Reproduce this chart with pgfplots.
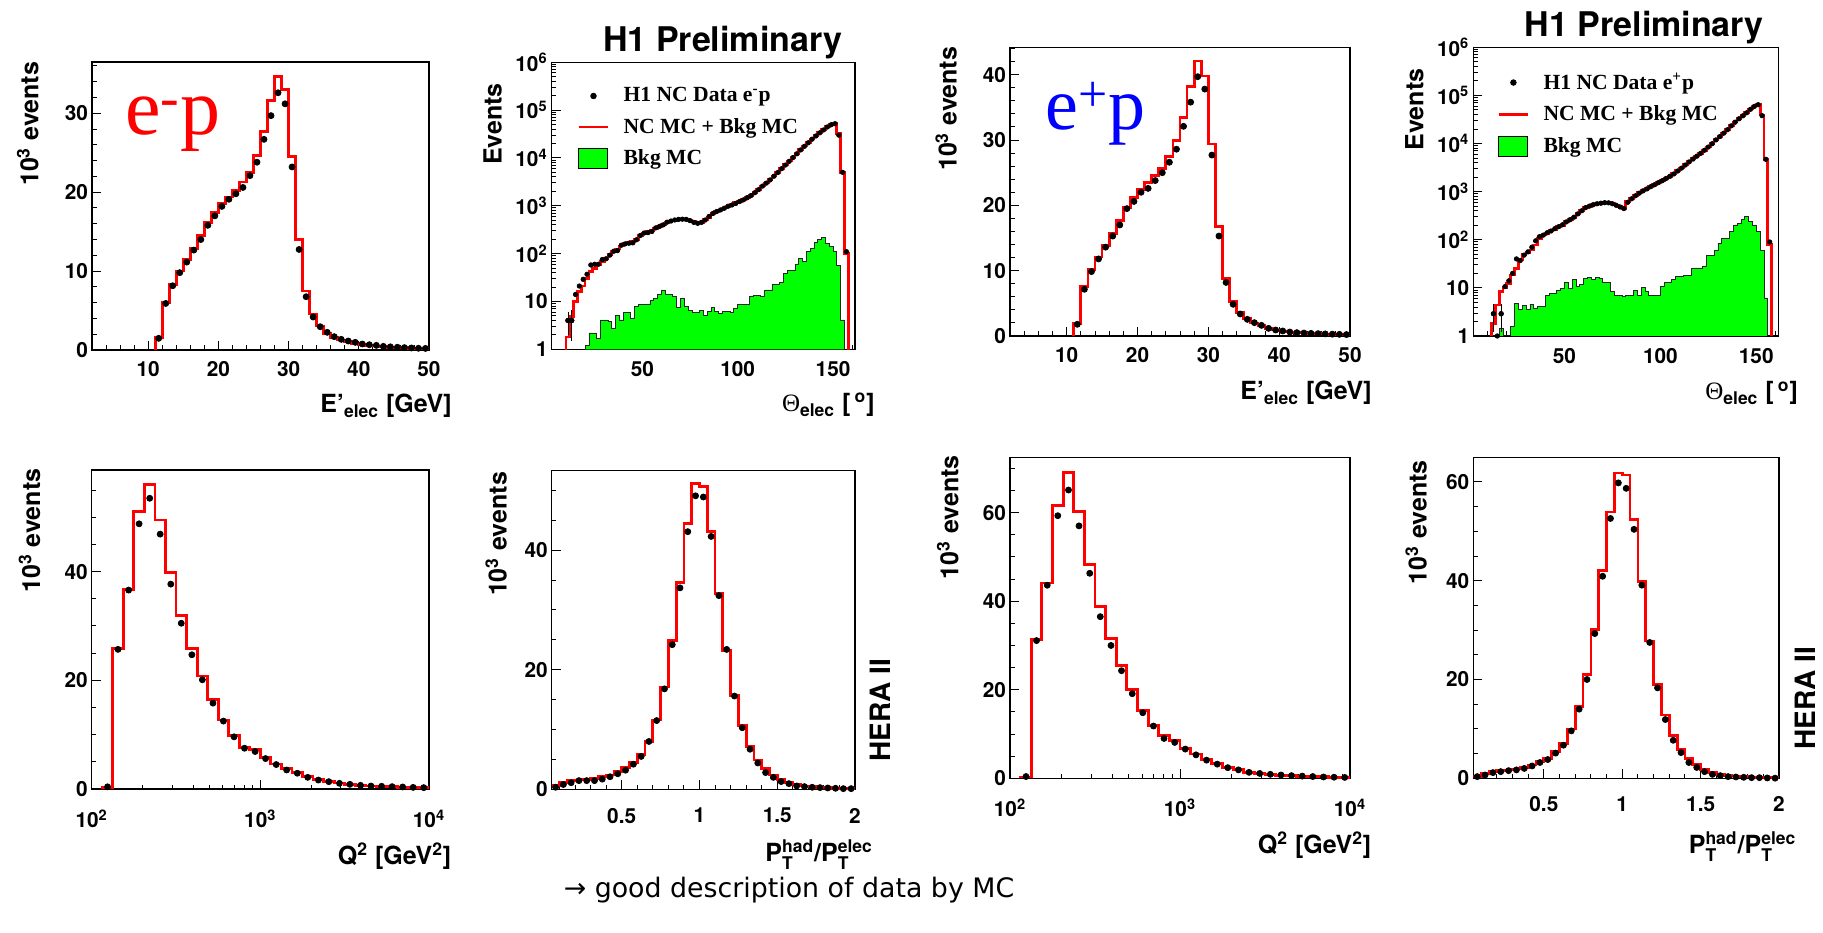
\documentclass[border=0pt]{standalone}
\usepackage{fontspec}
\setmainfont{TeX Gyre Heros}
\newfontfamily\tms{Liberation Serif}
\newfontfamily\dejavu{DejaVu Sans}
\usepackage{amsmath}
\usepackage{pgfplots}
\pgfplotsset{compat=1.18}
\definecolor{rootgreen}{RGB}{0,255,0}
\definecolor{rootred}{RGB}{255,0,0}
\definecolor{rootblue}{RGB}{0,0,255}
\newcommand\tlf{\fontsize{10.4}{12}\selectfont\bfseries}
\newcommand\ttf{\fontsize{12.5}{15}\selectfont\bfseries}
\newcommand\lgf{\tms\bfseries\fontsize{10.8}{13}\selectfont}
\pgfplotsset{
 rootax/.style={scale only axis, anchor=south west, clip=true,
   axis line style={line width=0.7pt}, tick align=inside, tick pos=left,
   major tick length=4.5pt, minor tick length=2.25pt,
   every tick/.style={black,line width=0.5pt},
   tick label style={font=\tlf}, /pgf/number format/assume math mode=true,
   scaled ticks=false, xticklabel style={yshift=-2.4pt}, yticklabel style={xshift=1.5pt}},
 mc/.style={const plot mark left, rootred, line width=1.4pt, mark=none},
 dat/.style={only marks, mark=*, mark size=1.5pt, black},
 bkg/.style={const plot mark left, fill=rootgreen, draw=black!85, line width=0.4pt, mark=none},
 leg/.style={legend style={at={(rel axis cs:#1)}, anchor=north west, draw=none, fill=none,
   inner sep=0pt, row sep=4.7pt, column sep=2.3pt, font=\lgf, nodes={inner sep=1pt}},
   legend cell align=left, reverse legend},
 limg/.style={legend image code/.code={\path[draw=none,fill=none] (0,0)--(19pt,0);\fill[black] (7.25pt,0) circle (1.4pt);}},
 lmc/.style={legend image code/.code={\path[draw=none,fill=none] (0,0)--(19pt,0);\draw[rootred,line width=1.4pt] (0,0)--(14.5pt,0);}},
 lbk/.style={legend image code/.code={\path[draw=none,fill=none] (0,0)--(19pt,0);\draw[fill=rootgreen,draw=black,line width=0.5pt] (0,-5pt) rectangle (14.5pt,5pt);}},
}
\begin{document}
\begin{tikzpicture}
\useasboundingbox (0,0) rectangle (911.5pt,466pt);

%% P1 e-p energy
\begin{axis}[rootax, at={(46pt,291pt)}, width=168.5pt, height=144pt,
  xmin=2, xmax=50, ymin=0, ymax=36.5,
  xtick={10,20,30,40,50}, minor xtick={4,6,8,12,14,16,18,22,24,26,28,32,34,36,38,42,44,46,48},
  ytick={0,10,20,30}, minor ytick={2,4,6,8,12,14,16,18,22,24,26,28,32,34,36}]
\addplot[mc] coordinates {(11,0) (11,1.56) (12,6.0) (13,8.35) (14,10.0) (15,11.5) (16,12.9) (17,14.55) (18,16.2) (19,17.4) (20,18.6) (21,19.4) (22,20.2) (23,21.3) (24,22.5) (25,24.7) (26,27.7) (27,31.6) (28,34.7) (29,33.0) (30,24.5) (31,14.0) (32,7.47) (33,4.56) (34,3.04) (35,2.1) (36,1.6) (37,1.27) (38,1.05) (39,0.85) (40,0.72) (41,0.6) (42,0.5) (43,0.42) (44,0.36) (45,0.31) (46,0.27) (47,0.23) (48,0.2) (49,0.17) (50,0.17)};
\addplot[dat] coordinates {(11.5,1.48) (12.5,5.9) (13.5,8.14) (14.5,9.8) (15.5,11.14) (16.5,12.66) (17.5,14.0) (18.5,15.8) (19.5,17.0) (20.5,18.2) (21.5,19.1) (22.5,19.8) (23.5,20.6) (24.5,22.1) (25.5,23.8) (26.5,26.7) (27.5,29.7) (28.5,32.6) (29.5,31.2) (30.5,23.2) (31.5,12.74) (32.5,6.75) (33.5,4.18) (34.5,2.95) (35.5,2.24) (36.5,1.69) (37.5,1.35) (38.5,1.14) (39.5,0.97) (40.5,0.76) (41.5,0.67) (42.5,0.59) (43.5,0.46) (44.5,0.4) (45.5,0.35) (46.5,0.3) (47.5,0.26) (48.5,0.22) (49.5,0.2)};
\end{axis}

%% P2 e-p theta
\begin{axis}[rootax, at={(275.85pt,291.35pt)}, width=151.65pt, height=143.5pt,
  ymode=log, xmin=2.5, xmax=161.5, ymin=1, ymax=1000000,
  xticklabel style={yshift=-0.3pt},
  xtick={50,100,150}, minor xtick={10,20,30,40,60,70,80,90,110,120,130,140,160},
  ytick={1,10,100,1000,10000,100000,1000000},
  yticklabels={1,10,10$^{\text{2}}$,10$^{\text{3}}$,10$^{\text{4}}$,10$^{\text{5}}$,10$^{\text{6}}$},
  leg={0.084,0.921}]
\addplot[bkg, lbk] coordinates {(20,1) (20,1.2) (22,2.2) (24,2.2) (26,1.7) (28,4.1) (30,4.1) (32,3.8) (34,2.75) (36,5.2) (38,4.1) (40,5.8) (42,5.8) (44,4.4) (46,7.8) (48,8.6) (50,8.6) (52,8.6) (54,10.5) (56,11.5) (58,14.3) (60,17.4) (62,14) (64,14) (66,12.6) (68,7.4) (70,11.5) (72,8) (74,6.6) (76,5.8) (78,5.8) (80,6.6) (82,5.2) (84,6.1) (86,7.4) (88,6.3) (90,5.65) (92,6.3) (94,6.3) (96,5.8) (98,7.2) (100,8.6) (102,8.6) (104,8.6) (106,12.6) (108,13.6) (110,13.6) (112,13) (114,17.4) (116,17.4) (118,23) (120,23) (122,25.5) (124,38) (126,44) (128,44) (130,60) (132,80) (134,70) (136,110) (138,130) (140,170) (142,200) (144,220) (146,165) (148,140) (150,110) (152,56) (154,4.1) (156,1)};
\addlegendentry{Bkg MC}
\addplot[mc, lmc] coordinates {(10,0.5) (10,1.8) (12,4.8) (14,10) (16,16) (18,21) (20,30) (22,42) (24,49) (26,58) (28,68) (30,80) (32,95) (34,110) (36,125) (38,145) (40,160) (42,170) (44,180) (46,200) (48,235) (50,265) (52,285) (54,300) (56,340) (58,375) (60,410) (62,450) (64,480) (66,500) (68,520) (70,530) (72,525) (74,500) (76,465) (78,440) (80,455) (82,510) (84,580) (86,680) (88,750) (90,820) (92,900) (94,980) (96,1050) (98,1150) (100,1250) (102,1350) (104,1500) (106,1650) (108,1900) (110,2200) (112,2600) (114,3000) (116,3500) (118,4200) (120,5000) (122,6000) (124,7200) (126,8600) (128,10300) (130,12300) (132,14800) (134,17700) (136,21000) (138,25000) (140,29000) (142,34000) (144,39000) (146,45000) (148,50000) (150,53000) (152,32000) (154,5000) (156,100) (158,0.5)};
\addlegendentry{NC MC + Bkg MC}
\addplot[dat, mark size=1.1pt, limg] coordinates {(11,4) (13,4) (15,14) (17,21) (19,29) (21,37) (23,58) (25,60) (27,60) (29,75) (31,78) (33,93) (35,112) (37,116) (39,150) (41,160) (43,165) (45,168) (47,195) (49,240) (51,270) (53,275) (55,290) (57,345) (59,370) (61,400) (63,455) (65,480) (67,505) (69,520) (71,525) (73,520) (75,490) (77,450) (79,430) (81,450) (83,505) (85,600) (87,690) (89,760) (91,820) (93,890) (95,980) (97,1040) (99,1120) (101,1230) (103,1330) (105,1480) (107,1640) (109,1880) (111,2180) (113,2580) (115,2980) (117,3480) (119,4150) (121,4950) (123,5950) (125,7100) (127,8500) (129,10200) (131,12200) (133,14700) (135,17500) (137,20800) (139,24700) (141,28800) (143,33500) (145,38500) (147,44500) (149,49500) (151,52000) (153,30000) (155,5000) (157,110)};
\addlegendentry{H1 NC Data e\textsuperscript{-}p}
\addplot[dat, mark size=1.1pt, forget plot, error bars/.cd, y dir=both, y explicit, error mark=none] coordinates {(11,4) +- (0,2) (13,4) +- (0,2.5)};
\end{axis}

%% P3 e+p energy
\begin{axis}[rootax, at={(505pt,298pt)}, width=170pt, height=144.35pt,
  xmin=2, xmax=50, ymin=0, ymax=44.2,
  xtick={10,20,30,40,50}, minor xtick={4,6,8,12,14,16,18,22,24,26,28,32,34,36,38,42,44,46,48},
  ytick={0,10,20,30,40}, minor ytick={2,4,6,8,12,14,16,18,22,24,26,28,32,34,36,38,42,44}]
\addplot[mc] coordinates {(11,0) (11,1.94) (12,7.56) (13,10.2) (14,12.1) (15,13.9) (16,15.7) (17,17.7) (18,19.7) (19,21.25) (20,22.4) (21,23.5) (22,24.6) (23,25.7) (24,27.5) (25,29.9) (26,33.5) (27,38.2) (28,42.1) (29,39.8) (30,29.4) (31,16.8) (32,8.8) (33,5.3) (34,3.6) (35,2.7) (36,2.0) (37,1.6) (38,1.2) (39,0.92) (40,0.77) (41,0.61) (42,0.51) (43,0.46) (44,0.4) (45,0.35) (46,0.3) (47,0.28) (48,0.25) (49,0.22) (50,0.22)};
\addplot[dat] coordinates {(11.5,1.79) (12.5,7.15) (13.5,9.86) (14.5,11.8) (15.5,13.6) (16.5,15.3) (17.5,17.0) (18.5,19.5) (19.5,20.6) (20.5,22.0) (21.5,22.6) (22.5,23.8) (23.5,25.0) (24.5,26.6) (25.5,28.6) (26.5,32.1) (27.5,35.8) (28.5,39.7) (29.5,37.8) (30.5,27.7) (31.5,15.3) (32.5,8.2) (33.5,4.85) (34.5,3.37) (35.5,2.55) (36.5,2.04) (37.5,1.63) (38.5,1.17) (39.5,0.92) (40.5,0.77) (41.5,0.61) (42.5,0.51) (43.5,0.46) (44.5,0.4) (45.5,0.36) (46.5,0.32) (47.5,0.28) (48.5,0.25) (49.5,0.22)};
\end{axis}

%% P4 e+p theta
\begin{axis}[rootax, at={(736.65pt,298pt)}, width=152.5pt, height=144.35pt,
  ymode=log, xmin=2.5, xmax=161.5, ymin=1, ymax=1000000,
  xticklabel style={yshift=-0.3pt},
  xtick={50,100,150}, minor xtick={10,20,30,40,60,70,80,90,110,120,130,140,160},
  ytick={1,10,100,1000,10000,100000,1000000},
  yticklabels={1,10,10$^{\text{2}}$,10$^{\text{3}}$,10$^{\text{4}}$,10$^{\text{5}}$,10$^{\text{6}}$},
  leg={0.078,0.92}]
\addplot[bkg, lbk] coordinates {(16,1) (16,1.45) (18,1) (20,1) (22,1.6) (24,4.8) (26,3.5) (28,4.4) (30,3.5) (32,4.6) (34,3.8) (36,4.1) (38,4.1) (40,7.1) (42,7.6) (44,7.6) (46,8.9) (48,9.6) (50,12.8) (52,9.6) (54,15) (56,10.8) (58,12) (60,15.8) (62,16.3) (64,14.7) (66,16.8) (68,16) (70,12.8) (72,12.8) (74,8.4) (76,6.9) (78,6.9) (80,6.7) (82,7.1) (84,7.1) (86,8.9) (88,6.9) (90,10) (92,8.4) (94,7.1) (96,7.1) (98,7.1) (100,10.8) (102,13.2) (104,13.2) (106,15) (108,17.3) (110,17.3) (112,18.3) (114,18.3) (116,25) (118,26) (120,26) (122,28.5) (124,48) (126,48) (128,61) (130,85) (132,107) (134,107) (136,147) (138,203) (140,220) (142,260) (144,300) (146,240) (148,203) (150,147) (152,61) (154,6.1) (156,1)};
\addlegendentry{Bkg MC}
\addplot[mc, lmc] coordinates {(12,0.5) (12,1.8) (14,4.4) (16,8.3) (18,10) (20,12.5) (22,18.5) (24,25.5) (26,38) (28,50) (30,55) (32,61) (34,78) (36,107) (38,125) (40,135) (42,155) (44,165) (46,190) (48,200) (50,240) (52,260) (54,290) (56,350) (58,400) (60,470) (62,500) (64,540) (66,565) (68,580) (70,590) (72,600) (74,580) (76,530) (78,490) (80,450) (82,620) (84,720) (86,830) (88,950) (90,1050) (92,1150) (94,1280) (96,1400) (98,1550) (100,1700) (102,1900) (104,2100) (106,2350) (108,2700) (110,3100) (112,3600) (114,4200) (116,4800) (118,5500) (120,6300) (122,7300) (124,8500) (126,10000) (128,12000) (130,14000) (132,16500) (134,19500) (136,23500) (138,28000) (140,33000) (142,38000) (144,44000) (146,52000) (148,60000) (150,66000) (152,39000) (154,4700) (156,80) (158,0.5)};
\addlegendentry{NC MC + Bkg MC}
\addplot[dat, mark size=1.1pt, limg] coordinates {(13,2.9) (15,1) (17,2.9) (19,10.6) (21,14) (23,20) (25,40) (27,37) (29,48) (31,56) (33,70) (35,95) (37,116) (39,125) (41,140) (43,152) (45,170) (47,187) (49,205) (51,235) (53,262) (55,295) (57,345) (59,400) (61,465) (63,500) (65,535) (67,560) (69,575) (71,590) (73,585) (75,560) (77,520) (79,480) (81,445) (83,600) (85,710) (87,820) (89,930) (91,1040) (93,1140) (95,1270) (97,1390) (99,1540) (101,1690) (103,1880) (105,2080) (107,2330) (109,2680) (111,3080) (113,3570) (115,4150) (117,4750) (119,5450) (121,6250) (123,7250) (125,8450) (127,9900) (129,11900) (131,13900) (133,16400) (135,19400) (137,23300) (139,27800) (141,32700) (143,37700) (145,43500) (147,51500) (149,59000) (151,64000) (153,38000) (155,4700) (157,90)};
\addlegendentry{H1 NC Data e\textsuperscript{+}p}
\addplot[dat, mark size=1.1pt, forget plot, error bars/.cd, y dir=both, y explicit, error mark=none] coordinates {(13,2.9) +- (0,1.7) (17,2.9) +- (0,1.7)};
\end{axis}

%% P5 e-p Q2
\begin{axis}[rootax, at={(45.85pt,71.5pt)}, width=168.65pt, height=159.5pt,
  xmin=2, xmax=4, ymin=0, ymax=58.7,
  xticklabel style={yshift=-4.5pt},
  xtick={2,3,4}, xticklabels={10$^{\text{2}}$,10$^{\text{3}}$,10$^{\text{4}}$},
  minor xtick={2.30103,2.47712,2.60206,2.69897,2.77815,2.84510,2.90309,2.95424,3.30103,3.47712,3.60206,3.69897,3.77815,3.84510,3.90309,3.95424},
  ytick={0,20,40}, minor ytick={5,10,15,25,30,35,45,50,55}]
\addplot[mc] coordinates {(2.0625,0) (2.0625,0.3) (2.125,25.8) (2.1875,36.7) (2.25,51) (2.3125,56) (2.375,49.5) (2.4375,39.8) (2.5,32) (2.5625,25.8) (2.625,20.8) (2.6875,16.4) (2.75,12.7) (2.8125,9.9) (2.875,7.7) (2.9375,7.2) (3.0,5.8) (3.0625,4.6) (3.125,3.7) (3.1875,3.0) (3.25,2.3) (3.3125,1.8) (3.375,1.4) (3.4375,1.1) (3.5,0.9) (3.5625,0.7) (3.625,0.57) (3.6875,0.47) (3.75,0.4) (3.8125,0.34) (3.875,0.28) (3.9375,0.24) (4.0,0.24)};
\addplot[dat] coordinates {(2.094,0.4) (2.156,25.7) (2.219,36.6) (2.281,48.8) (2.344,53.5) (2.406,46.9) (2.469,37.7) (2.531,30.5) (2.594,24.7) (2.656,20.1) (2.719,15.8) (2.781,12.5) (2.844,9.6) (2.906,7.5) (2.969,6.9) (3.031,5.6) (3.094,4.5) (3.156,3.5) (3.219,2.9) (3.281,2.15) (3.344,1.65) (3.406,1.35) (3.469,1.05) (3.531,0.86) (3.594,0.68) (3.656,0.55) (3.719,0.5) (3.781,0.43) (3.844,0.37) (3.906,0.3) (3.969,0.25)};
\end{axis}

%% P6 e-p pt balance
\begin{axis}[rootax, at={(275.85pt,71.35pt)}, width=151.65pt, height=159.3pt,
  xmin=0.05, xmax=2, ymin=0, ymax=53.3,
  xticklabel style={yshift=-3.5pt},
  xtick={0.5,1,1.5,2}, xticklabels={0.5,1,1.5,2},
  minor xtick={0.1,0.2,0.3,0.4,0.6,0.7,0.8,0.9,1.1,1.2,1.3,1.4,1.6,1.7,1.8,1.9},
  ytick={0,20,40}, minor ytick={5,10,15,25,30,35,45,50}]
\addplot[mc] coordinates {(0.05,0.7) (0.10,1.1) (0.15,1.45) (0.20,1.55) (0.25,1.7) (0.30,1.85) (0.35,2.1) (0.40,2.4) (0.45,3.0) (0.50,3.7) (0.55,4.5) (0.60,5.8) (0.65,8.0) (0.70,11.6) (0.75,17.1) (0.80,24.9) (0.85,34.6) (0.90,44.5) (0.95,51.1) (1.00,50.6) (1.05,43.1) (1.10,32.8) (1.15,23.2) (1.20,15.7) (1.25,10.7) (1.30,7.2) (1.35,4.9) (1.40,3.5) (1.45,2.4) (1.50,1.7) (1.55,1.1) (1.60,0.8) (1.65,0.56) (1.70,0.42) (1.75,0.32) (1.80,0.25) (1.85,0.2) (1.90,0.15) (1.95,0.12) (2.0,0.12)};
\addplot[dat] coordinates {(0.075,0.34) (0.125,0.8) (0.175,1.1) (0.225,1.45) (0.275,1.45) (0.325,1.45) (0.375,1.7) (0.425,2.1) (0.475,2.6) (0.525,3.2) (0.575,4.2) (0.625,5.5) (0.675,8.0) (0.725,11.5) (0.775,16.8) (0.825,24.2) (0.875,33.7) (0.925,43.1) (0.975,49.1) (1.025,48.9) (1.075,42.3) (1.125,32.4) (1.175,23.4) (1.225,15.6) (1.275,10.3) (1.325,6.7) (1.375,4.4) (1.425,2.8) (1.475,2.0) (1.525,1.3) (1.575,0.95) (1.625,0.56) (1.675,0.45) (1.725,0.34) (1.775,0.28) (1.825,0.22) (1.875,0.17) (1.925,0.11) (1.975,0.11)};
\end{axis}

%% P7 e+p Q2
\begin{axis}[rootax, at={(505pt,76.85pt)}, width=170pt, height=160.3pt,
  xmin=2, xmax=4, ymin=0, ymax=72.4,
  xticklabel style={yshift=-4.5pt},
  xtick={2,3,4}, xticklabels={10$^{\text{2}}$,10$^{\text{3}}$,10$^{\text{4}}$},
  minor xtick={2.30103,2.47712,2.60206,2.69897,2.77815,2.84510,2.90309,2.95424,3.30103,3.47712,3.60206,3.69897,3.77815,3.84510,3.90309,3.95424},
  ytick={0,20,40,60}, minor ytick={5,10,15,25,30,35,45,50,55,65,70}]
\addplot[mc] coordinates {(2.0625,0) (2.0625,0.3) (2.125,31.3) (2.1875,44.1) (2.25,61.6) (2.3125,69.1) (2.375,60.3) (2.4375,48.3) (2.5,38.8) (2.5625,31.5) (2.625,25.4) (2.6875,20) (2.75,15.4) (2.8125,12) (2.875,9.6) (2.9375,8.5) (3.0,6.8) (3.0625,5.5) (3.125,4.3) (3.1875,3.4) (3.25,2.5) (3.3125,1.9) (3.375,1.4) (3.4375,1.1) (3.5,0.85) (3.5625,0.7) (3.625,0.55) (3.6875,0.45) (3.75,0.38) (3.8125,0.32) (3.875,0.27) (3.9375,0.22) (4.0,0.22)};
\addplot[dat] coordinates {(2.094,0.4) (2.156,31.1) (2.219,43.6) (2.281,59.3) (2.344,65.1) (2.406,57) (2.469,46.3) (2.531,36.5) (2.594,30) (2.656,24.3) (2.719,19.1) (2.781,14.8) (2.844,11.8) (2.906,9.0) (2.969,8.1) (3.031,6.6) (3.094,5.3) (3.156,4.1) (3.219,3.2) (3.281,2.4) (3.344,1.9) (3.406,1.35) (3.469,1.1) (3.531,0.9) (3.594,0.75) (3.656,0.6) (3.719,0.5) (3.781,0.4) (3.844,0.3) (3.906,0.25) (3.969,0.2)};
\end{axis}

%% P8 e+p pt balance
\begin{axis}[rootax, at={(736.65pt,76.85pt)}, width=152.85pt, height=160.3pt,
  xmin=0.05, xmax=2, ymin=0, ymax=64.9,
  xticklabel style={yshift=-3.2pt},
  xtick={0.5,1,1.5,2}, xticklabels={0.5,1,1.5,2},
  minor xtick={0.1,0.2,0.3,0.4,0.6,0.7,0.8,0.9,1.1,1.2,1.3,1.4,1.6,1.7,1.8,1.9},
  ytick={0,20,40,60}, minor ytick={5,10,15,25,30,35,45,50,55}]
\addplot[mc] coordinates {(0.05,0.35) (0.10,1.0) (0.15,1.35) (0.20,1.55) (0.25,1.7) (0.30,1.9) (0.35,2.2) (0.40,2.7) (0.45,3.4) (0.50,4.0) (0.55,5.4) (0.60,7.0) (0.65,10.0) (0.70,14.5) (0.75,21.0) (0.80,30.2) (0.85,42) (0.90,53.9) (0.95,61.8) (1.00,61.4) (1.05,52.4) (1.10,39.8) (1.15,27.8) (1.20,19.0) (1.25,12.8) (1.30,8.6) (1.35,5.9) (1.40,4.0) (1.45,2.8) (1.50,1.8) (1.55,1.2) (1.60,0.8) (1.65,0.6) (1.70,0.45) (1.75,0.35) (1.80,0.28) (1.85,0.22) (1.90,0.17) (1.95,0.13) (2.0,0.13)};
\addplot[dat] coordinates {(0.075,0.34) (0.125,0.67) (0.175,1.15) (0.225,1.35) (0.275,1.55) (0.325,1.7) (0.375,2.0) (0.425,2.5) (0.475,3.2) (0.525,3.8) (0.575,5.1) (0.625,6.7) (0.675,9.6) (0.725,14.0) (0.775,20.0) (0.825,29.3) (0.875,40.9) (0.925,52.6) (0.975,59.8) (1.025,58.7) (1.075,50.4) (1.125,39.1) (1.175,27.5) (1.225,18.3) (1.275,11.9) (1.325,7.7) (1.375,5.2) (1.425,3.2) (1.475,2.2) (1.525,1.35) (1.575,0.8) (1.625,0.54) (1.675,0.34) (1.725,0.27) (1.775,0.2) (1.825,0.13) (1.875,0.13) (1.925,0.07) (1.975,0.03)};
\end{axis}

%% axis titles
\begin{scope}[every node/.style={font=\ttf, inner sep=0pt}]
\node[rotate=90, anchor=base east] at (19.15pt,435.15pt) {10$^{\text{3}}$ events};
\node[rotate=90, anchor=base east] at (250.85pt,424.5pt) {Events};
\node[rotate=90, anchor=base east] at (478.35pt,442.65pt) {10$^{\text{3}}$ events};
\node[rotate=90, anchor=base east] at (711.65pt,431.85pt) {Events};
\node[rotate=90, anchor=base east] at (20pt,231.85pt) {10$^{\text{3}}$ events};
\node[rotate=90, anchor=base east] at (253.35pt,230.15pt) {10$^{\text{3}}$ events};
\node[rotate=90, anchor=base east] at (479.15pt,238.5pt) {10$^{\text{3}}$ events};
\node[rotate=90, anchor=base east] at (713.35pt,236pt) {10$^{\text{3}}$ events};
\node[anchor=base east] at (226pt,259.5pt) {E’$_{\text{elec}}$ [GeV]};
\node[anchor=base east] at (437.5pt,260.15pt) {{\tms\mdseries Θ}$_{\text{elec}}$ [\,$^{\text{o}}$]};
\node[anchor=base east] at (686pt,266pt) {E’$_{\text{elec}}$ [GeV]};
\node[anchor=base east] at (899.15pt,266pt) {{\tms\mdseries Θ}$_{\text{elec}}$ [\,$^{\text{o}}$]};
\node[anchor=base east] at (225.85pt,34pt) {Q$^{\text{2}}$ [GeV$^{\text{2}}$]};
\node[anchor=base east] at (436.65pt,35.2pt) {P$^{\text{had}}_{\text{T}}$/P$^{\text{elec}}_{\text{T}}$};
\node[anchor=base east] at (685.85pt,39.35pt) {Q$^{\text{2}}$ [GeV$^{\text{2}}$]};
\node[anchor=base east] at (898.35pt,39.35pt) {P$^{\text{had}}_{\text{T}}$/P$^{\text{elec}}_{\text{T}}$};
\end{scope}

%% annotations
\node[anchor=base west, inner sep=0pt, font=\fontsize{17}{20}\selectfont\bfseries] at (301.35pt,440.15pt) {H1 Preliminary};
\node[anchor=base west, inner sep=0pt, font=\fontsize{17}{20}\selectfont\bfseries] at (762.15pt,447.65pt) {H1 Preliminary};
\node[rotate=90, anchor=base, inner sep=0pt, font=\fontsize{14}{16}\selectfont\bfseries] at (445.35pt,111pt) {HERA II};
\node[rotate=90, anchor=base, inner sep=0pt, font=\fontsize{14}{16}\selectfont\bfseries] at (907.5pt,117pt) {HERA II};
\node[anchor=base west, inner sep=0pt, text=rootred, font=\tms\fontsize{40}{44}\selectfont] at (62.5pt,398.5pt) {e\textsuperscript{-}p};
\node[anchor=base west, inner sep=0pt, text=rootblue, font=\tms\fontsize{37}{40}\selectfont] at (522.5pt,401pt) {e\textsuperscript{+}p};
\node[anchor=base, inner sep=0pt, font=\dejavu\fontsize{13.4}{16}\selectfont] at (394.5pt,17.3pt) {→ good description of data by MC};
\end{tikzpicture}
\end{document}
